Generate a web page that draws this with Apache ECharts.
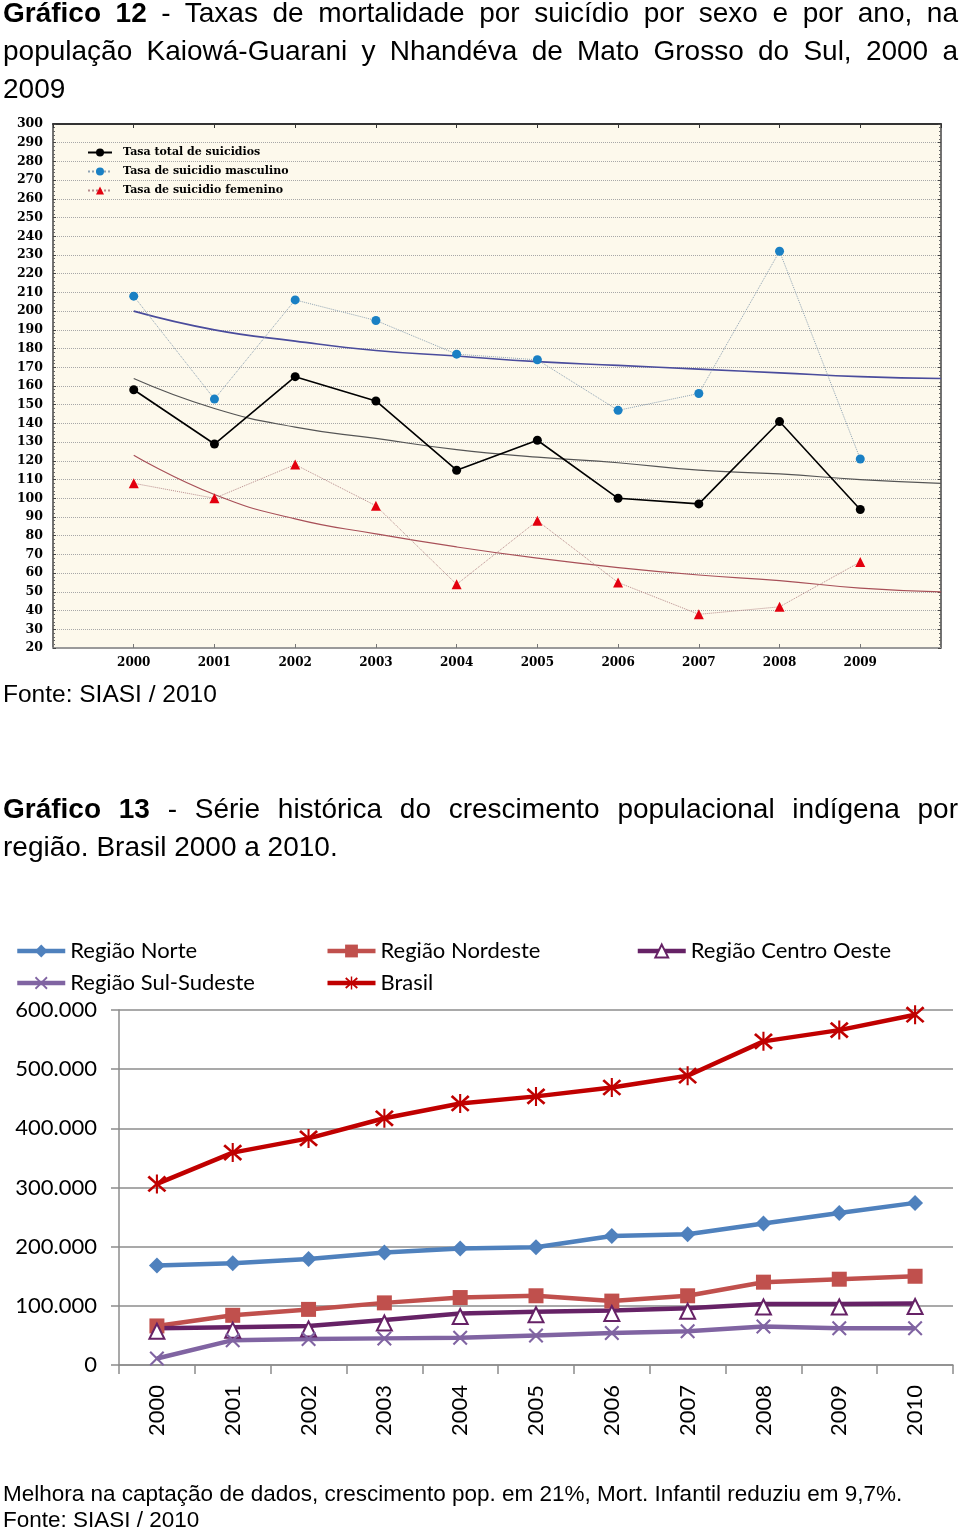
<!DOCTYPE html>
<html>
<head>
<meta charset="utf-8">
<script src="https://cdn.jsdelivr.net/npm/echarts@6/dist/echarts.min.js"></script>
<style>
  html, body { margin: 0; padding: 0; background: #fff; }
  #wrap { position: relative; width: 960px; height: 1531px; overflow: hidden; }
  #chart { position: absolute; left: 0; top: 0; width: 960px; height: 1531px; }
  .t { position: absolute; font-family: "Liberation Sans", Arial, sans-serif; color: #000; white-space: nowrap; line-height: 1; z-index: 5; }
  .j { white-space: normal; text-align: justify; text-align-last: justify; }
</style>
</head>
<body>
<div id="wrap">
  <div id="chart"></div>
  <div class="t j" style="left:3px; width:955px; top:-1px; font-size:28px;"><b>Gráfico 12</b> - Taxas de mortalidade por suicídio por sexo e por ano, na</div>
  <div class="t j" style="left:3px; width:955px; top:37px; font-size:28px;">população Kaiowá-Guarani y Nhandéva de Mato Grosso do Sul, 2000 a</div>
  <div class="t" style="left:3px; top:75px; font-size:28px;">2009</div>
  <div class="t" style="left:3px; top:682px; font-size:24.5px;">Fonte: SIASI / 2010</div>
  <div class="t j" style="left:3px; width:955px; top:795px; font-size:28px;"><b>Gráfico 13</b> - Série histórica do crescimento populacional indígena por</div>
  <div class="t" style="left:3px; top:833px; font-size:28px;">região. Brasil 2000 a 2010.</div>
  <div class="t" style="left:3px; top:1483px; font-size:22.5px;">Melhora na captação de dados, crescimento pop. em 21%, Mort. Infantil reduziu em 9,7%.</div>
  <div class="t" style="left:3px; top:1509px; font-size:22.5px;">Fonte: SIASI / 2010</div>
</div>
<script>
// ---------- Gráfico 12 data ----------
const years1 = [2000, 2001, 2002, 2003, 2004, 2005, 2006, 2007, 2008, 2009];
const taxaTotal = [158, 129, 165, 152, 115, 131, 100, 97, 141, 94];
const taxaMasc  = [208, 153, 206, 195, 177, 174, 147, 156, 232, 121];
const taxaFem   = [108, 100, 118, 96, 54, 88, 55, 38, 42, 66];
const trendYears = [2000, 2001, 2002, 2003, 2004, 2005, 2006, 2007, 2008, 2009, 2010];
const trendTotal = [164, 148, 138, 132, 126, 122, 119, 115, 113, 110, 108];
const trendMasc  = [200, 190, 184, 179, 176, 173, 171, 169, 167, 165, 164];
const trendFem   = [123, 102, 89, 81, 74, 68, 63, 59, 56, 52, 50];
const names1 = ['Tasa total de suicidios', 'Tasa de suicidio masculino', 'Tasa de suicidio femenino'];

// ---------- Gráfico 13 data ----------
const years2 = ['2000', '2001', '2002', '2003', '2004', '2005', '2006', '2007', '2008', '2009', '2010'];
const norte       = [168000, 172000, 179000, 190000, 197000, 199000, 218000, 221000, 239000, 257000, 274000];
const nordeste    = [66000, 84000, 94000, 105000, 114000, 117000, 108000, 117000, 140000, 145000, 150000];
const centroOeste = [62000, 64000, 66000, 76000, 87000, 90000, 92000, 96000, 103000, 103000, 104000];
const sulSudeste  = [11000, 42000, 44000, 45000, 46000, 50000, 54000, 57000, 65000, 62000, 62000];
const brasil      = [306000, 359000, 383000, 417000, 442000, 454000, 469000, 489000, 547000, 566000, 592000];
const names2 = ['Região Norte', 'Região Nordeste', 'Região Centro Oeste', 'Região Sul-Sudeste', 'Brasil'];

const pair = (xs, ys) => ys.map((v, i) => [xs[i], v]);
const xPath = 'path://M0,1L1,0L5,4L9,0L10,1L6,5L10,9L9,10L5,6L1,10L0,9L4,5Z';
const starPath = 'path://M0,1.6L1,0.6L5,4.2L9,0.6L10,1.6L6,5L10,8.4L9,9.4L5,5.8L1,9.4L0,8.4L4,5ZM4.45,0L5.55,0L5.55,10L4.45,10Z';

const serif = '"DejaVu Serif", "Liberation Serif", serif';
const calib = 'Lato, "Open Sans", sans-serif';

const chart = echarts.init(document.getElementById('chart'), null, { renderer: 'canvas' });

const option = {
  animation: false,
  backgroundColor: '#ffffff',
  grid: [
    { left: 53, top: 124, width: 888, height: 524, show: true, backgroundColor: '#fdf9ec', borderWidth: 0 },
    { left: 119, top: 1010, width: 834, height: 355, show: false }
  ],
  legend: [
    {
      data: names1, orient: 'vertical', left: 82, top: 142, itemGap: 8,
      itemWidth: 24, itemHeight: 10,
      textStyle: { fontFamily: serif, fontWeight: 'bold', fontSize: 11, color: '#000', padding: [0, 0, 0, 6] }
    },
    {
      data: names2, left: 10, top: 930, width: 945, itemGap: 0,
      itemWidth: 48, itemHeight: 16,
      lineStyle: { width: 4.5 },
      textStyle: { fontFamily: calib, fontSize: 22, color: '#000', width: 255, lineHeight: 32, overflow: 'none' }
    }
  ],
  xAxis: [
    {
      gridIndex: 0, type: 'value', min: 1999, max: 2010, interval: 1, position: 'bottom',
      axisLine: { show: true, onZero: false, lineStyle: { color: '#9a9a9a', width: 2 } },
      axisTick: { show: true, inside: true, length: 4, lineStyle: { color: '#777' } },
      axisLabel: {
        margin: 9, fontFamily: serif, fontWeight: 'bold', fontSize: 12, color: '#000',
        formatter: v => (v >= 2000 && v <= 2009) ? String(v) : ''
      },
      splitLine: { show: false }
    },
    {
      gridIndex: 0, type: 'value', min: 1999, max: 2010, interval: 1, position: 'top',
      axisLine: { show: true, onZero: false, lineStyle: { color: '#333', width: 2 } },
      axisTick: { show: true, inside: true, length: 4, lineStyle: { color: '#333' } },
      axisLabel: { show: false }, splitLine: { show: false }
    },
    {
      gridIndex: 1, type: 'category', data: years2, boundaryGap: true,
      axisLine: { show: true, lineStyle: { color: '#8c8c8c', width: 1.5 } },
      axisTick: { show: true, alignWithLabel: false, length: 9, lineStyle: { color: '#8c8c8c', width: 1.5 } },
      axisLabel: { rotate: 90, margin: 20, fontFamily: calib, fontSize: 22, color: '#000' }
    }
  ],
  yAxis: [
    {
      gridIndex: 0, type: 'value', min: 20, max: 300, interval: 10, position: 'left',
      axisLine: { show: true, lineStyle: { color: '#444', width: 1.5 } },
      axisTick: { show: true, inside: true, length: 3, lineStyle: { color: '#444' } },
      minorTick: { show: true, splitNumber: 5, length: 2, lineStyle: { color: '#666' } },
      axisLabel: { margin: 10, fontFamily: serif, fontWeight: 'bold', fontSize: 12.5, color: '#000' },
      splitLine: { show: true, lineStyle: { color: '#a8a8a8', width: 1, type: 'dotted' } }
    },
    {
      gridIndex: 0, type: 'value', min: 20, max: 300, interval: 10, position: 'right',
      axisLine: { show: true, lineStyle: { color: '#444', width: 1.5 } },
      axisTick: { show: true, inside: true, length: 3, lineStyle: { color: '#444' } },
      minorTick: { show: true, splitNumber: 5, length: 2, lineStyle: { color: '#666' } },
      axisLabel: { show: false }, splitLine: { show: false }
    },
    {
      gridIndex: 1, type: 'value', min: 0, max: 600000, interval: 100000,
      axisLine: { show: true, lineStyle: { color: '#8c8c8c', width: 1.5 } },
      axisTick: { show: true, length: 8, lineStyle: { color: '#8c8c8c', width: 1.5 } },
      axisLabel: {
        margin: 22, fontFamily: calib, fontSize: 22, color: '#000',
        formatter: v => v === 0 ? '0' : (v / 1000) + '.000'
      },
      splitLine: { show: true, lineStyle: { color: '#8c8c8c', width: 1.5 } }
    }
  ],
  series: [
    // trend lines (Gráfico 12)
    { name: 'Tendência masculino', type: 'line', xAxisIndex: 0, yAxisIndex: 0, data: pair(trendYears, trendMasc),
      smooth: true, showSymbol: false, symbol: 'none', lineStyle: { color: '#4a4c9c', width: 1.6 }, z: 2 },
    { name: 'Tendência total', type: 'line', xAxisIndex: 0, yAxisIndex: 0, data: pair(trendYears, trendTotal),
      smooth: true, showSymbol: false, symbol: 'none', lineStyle: { color: '#555555', width: 1.2 }, z: 2 },
    { name: 'Tendência feminino', type: 'line', xAxisIndex: 0, yAxisIndex: 0, data: pair(trendYears, trendFem),
      smooth: true, showSymbol: false, symbol: 'none', lineStyle: { color: '#a85058', width: 1.2 }, z: 2 },
    // data series (Gráfico 12)
    { name: names1[0], type: 'line', xAxisIndex: 0, yAxisIndex: 0, data: pair(years1, taxaTotal),
      symbol: 'circle', symbolSize: 9, itemStyle: { color: '#000' }, lineStyle: { color: '#000', width: 1.6 }, z: 4 },
    { name: names1[1], type: 'line', xAxisIndex: 0, yAxisIndex: 0, data: pair(years1, taxaMasc),
      symbol: 'circle', symbolSize: 9, itemStyle: { color: '#1a80c4' }, lineStyle: { color: '#90a4b4', width: 1, type: 'dotted' }, z: 4 },
    { name: names1[2], type: 'line', xAxisIndex: 0, yAxisIndex: 0, data: pair(years1, taxaFem),
      symbol: 'triangle', symbolSize: 10, itemStyle: { color: '#e3000f' }, lineStyle: { color: '#b88c8c', width: 1, type: 'dotted' }, z: 4 },
    // Gráfico 13
    { name: names2[0], type: 'line', xAxisIndex: 2, yAxisIndex: 2, data: norte,
      symbol: 'diamond', symbolSize: 16, itemStyle: { color: '#4f81bd' }, lineStyle: { color: '#4f81bd', width: 4.5 } },
    { name: names2[1], type: 'line', xAxisIndex: 2, yAxisIndex: 2, data: nordeste,
      symbol: 'rect', symbolSize: 15, itemStyle: { color: '#c0504d' }, lineStyle: { color: '#c0504d', width: 4.5 } },
    { name: names2[2], type: 'line', xAxisIndex: 2, yAxisIndex: 2, data: centroOeste,
      symbol: 'emptyTriangle', symbolSize: 15, symbolOffset: [0, 3],
      itemStyle: { color: '#662266', borderColor: '#662266', borderWidth: 1.5 }, lineStyle: { color: '#662266', width: 4.5 } },
    { name: names2[3], type: 'line', xAxisIndex: 2, yAxisIndex: 2, data: sulSudeste,
      symbol: xPath, symbolSize: 15, itemStyle: { color: '#8064a2' }, lineStyle: { color: '#8064a2', width: 4.5 } },
    { name: names2[4], type: 'line', xAxisIndex: 2, yAxisIndex: 2, data: brasil,
      symbol: starPath, symbolSize: 19, itemStyle: { color: '#c00000' }, lineStyle: { color: '#c00000', width: 4.5 } }
  ]
};
chart.setOption(option);
</script>
</body>
</html>
